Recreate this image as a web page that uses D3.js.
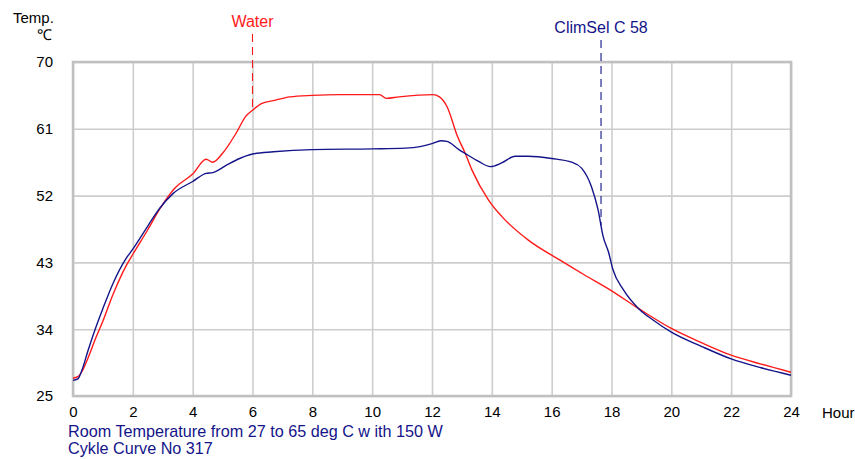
<!DOCTYPE html>
<html>
<head>
<meta charset="utf-8">
<script src="https://cdn.jsdelivr.net/npm/d3@7"></script>
<style>
  body { margin: 0; background: #fff; }
  svg text { font-family: "Liberation Sans", Arial, sans-serif; }
</style>
</head>
<body>
<div id="chart"></div>
<script>
// hours / temperatures
var waterHours = [0, 0.16, 0.3, 0.5, 0.75, 1, 1.33, 1.77, 2, 2.5, 2.9, 3.4, 4, 4.45, 4.67, 5, 5.45, 5.78, 6, 6.3, 6.7, 7.25, 8, 8.9, 10.25, 10.47, 10.9, 12.03, 12.25, 12.5, 12.85, 13.11, 13.33, 13.89, 14.33, 15.22, 16.28, 17.1, 17.95, 18.9, 20, 21, 22, 23, 24];
var waterTemps = [27.4, 27.6, 28.3, 30.1, 32.7, 35.1, 38.6, 42.5, 44.1, 47.4, 50.2, 53.0, 54.9, 56.9, 56.5, 57.7, 60.4, 62.7, 63.5, 64.4, 64.8, 65.3, 65.5, 65.6, 65.6, 65.1, 65.3, 65.6, 65.3, 64.0, 60.0, 57.7, 55.5, 51.4, 49.2, 46.0, 43.3, 41.3, 39.3, 36.8, 34.1, 32.2, 30.5, 29.3, 28.2];

var climHours = [0, 0.16, 0.3, 0.5, 0.75, 1, 1.33, 1.77, 2, 2.5, 2.9, 3.35, 4, 4.45, 4.67, 5.13, 5.57, 6, 6.7, 8, 10, 11.1, 11.6, 12, 12.3, 12.5, 12.9, 13.1, 13.56, 13.95, 14.33, 14.78, 15.22, 16, 16.67, 17, 17.33, 17.55, 17.72, 17.9, 18.05, 18.4, 18.9, 19.4, 20, 21, 22, 23, 24];
var climTemps = [27.1, 27.3, 28.5, 31.1, 34.1, 36.8, 40.1, 43.5, 44.8, 47.9, 50.3, 52.3, 53.9, 55.0, 55.1, 56.1, 57.0, 57.6, 57.9, 58.2, 58.3, 58.4, 58.6, 59.0, 59.4, 59.3, 58.2, 57.7, 56.6, 55.9, 56.4, 57.3, 57.3, 57.0, 56.5, 55.7, 53.2, 50.1, 46.5, 44.4, 42.0, 39.3, 36.8, 35.2, 33.6, 31.7, 30.0, 28.8, 27.8];

var yTicks = [25, 34, 43, 52, 61, 70];
var xTicks = [0, 2, 4, 6, 8, 10, 12, 14, 16, 18, 20, 22, 24];
var notes = ["Room Temperature from 27 to 65 deg C w ith 150 W", "Cykle Curve No 317"];

var width = 855, height = 459;
var margin = {top: 62, right: 64, bottom: 63, left: 73};
var w = width - margin.left - margin.right;
var h = height - margin.top - margin.bottom;

var red = "#ff1a1a", navy = "#14148a";

var svg = d3.select("#chart").append("svg")
    .attr("width", width)
    .attr("height", height);

var x = d3.scaleLinear().domain([0, 24]).range([margin.left, margin.left + w]);
var y = d3.scaleLinear().domain([25, 70]).range([margin.top + h, margin.top]);

// grid
svg.append("g")
    .attr("transform", "translate(0," + (margin.top + h) + ")")
    .call(d3.axisBottom(x).tickValues(xTicks).tickSize(-h).tickFormat(""))
    .call(g => g.select(".domain").remove())
    .call(g => g.selectAll("line").attr("stroke", "#cdcdcd").attr("stroke-width", 1.6));
svg.append("g")
    .attr("transform", "translate(" + margin.left + ",0)")
    .call(d3.axisLeft(y).tickValues(yTicks).tickSize(-w).tickFormat(""))
    .call(g => g.select(".domain").remove())
    .call(g => g.selectAll("line").attr("stroke", "#cdcdcd").attr("stroke-width", 1.6));

// frame
svg.append("rect")
    .attr("x", x(0))
    .attr("y", y(70))
    .attr("width", x(24) - x(0))
    .attr("height", y(25) - y(70))
    .attr("fill", "none")
    .attr("stroke", "#c0c0c0")
    .attr("stroke-width", 2.5);

// tick labels
svg.append("g")
    .attr("transform", "translate(" + (margin.left - 20) + ",0)")
    .call(d3.axisLeft(y).tickValues(yTicks).tickSize(0).tickPadding(0))
    .call(g => g.select(".domain").remove())
    .call(g => g.selectAll("text").attr("font-size", 15).attr("fill", "#000")
        .attr("font-family", "Liberation Sans, Arial, sans-serif"));
svg.append("g")
    .attr("transform", "translate(0," + (margin.top + h + 10) + ")")
    .call(d3.axisBottom(x).tickValues(xTicks).tickSize(0).tickPadding(0))
    .call(g => g.select(".domain").remove())
    .call(g => g.selectAll("text").attr("font-size", 15).attr("fill", "#000")
        .attr("font-family", "Liberation Sans, Arial, sans-serif"));

svg.append("text").text("Hour")
    .attr("x", 822).attr("y", 418).attr("font-size", 15);
svg.append("text").text("Temp.")
    .attr("x", 13).attr("y", 23).attr("font-size", 15);
svg.append("text").text("\u2103")
    .attr("x", 37).attr("y", 40).attr("font-size", 15);

notes.forEach((t, i) => {
    svg.append("text").text(t)
        .attr("x", 68).attr("y", 437 + i * 17)
        .attr("font-size", 16.2)
        .attr("fill", navy);
});

// curves
var line = d3.line()
    .x(d => x(d[0]))
    .y(d => y(d[1]))
    .curve(d3.curveMonotoneX);

var waterData = d3.zip(waterHours, waterTemps);
var climData = d3.zip(climHours, climTemps);

svg.append("path").datum(waterData)
    .attr("d", line).attr("fill", "none")
    .attr("stroke", red).attr("stroke-width", 1.4);
svg.append("path").datum(climData)
    .attr("d", line).attr("fill", "none")
    .attr("stroke", navy).attr("stroke-width", 1.4);

// series labels with dashed pointers
function pointer(label, hour, temps, hours, color, textY, lineTop) {
    var t = d3.scaleLinear().domain(hours).range(temps)(hour);
    svg.append("line")
        .attr("x1", x(hour)).attr("x2", x(hour))
        .attr("y1", lineTop).attr("y2", y(t))
        .attr("stroke", color)
        .attr("stroke-width", 1.1)
        .attr("stroke-dasharray", "8,5");
    svg.append("text").text(label)
        .attr("x", x(hour)).attr("y", textY)
        .attr("text-anchor", "middle")
        .attr("font-size", 16)
        .attr("fill", color);
}
pointer("Water", 6, waterTemps, waterHours, red, 27, 34);
pointer("ClimSel C 58", 17.65, climTemps, climHours, navy, 33, 40);
</script>
</body>
</html>
